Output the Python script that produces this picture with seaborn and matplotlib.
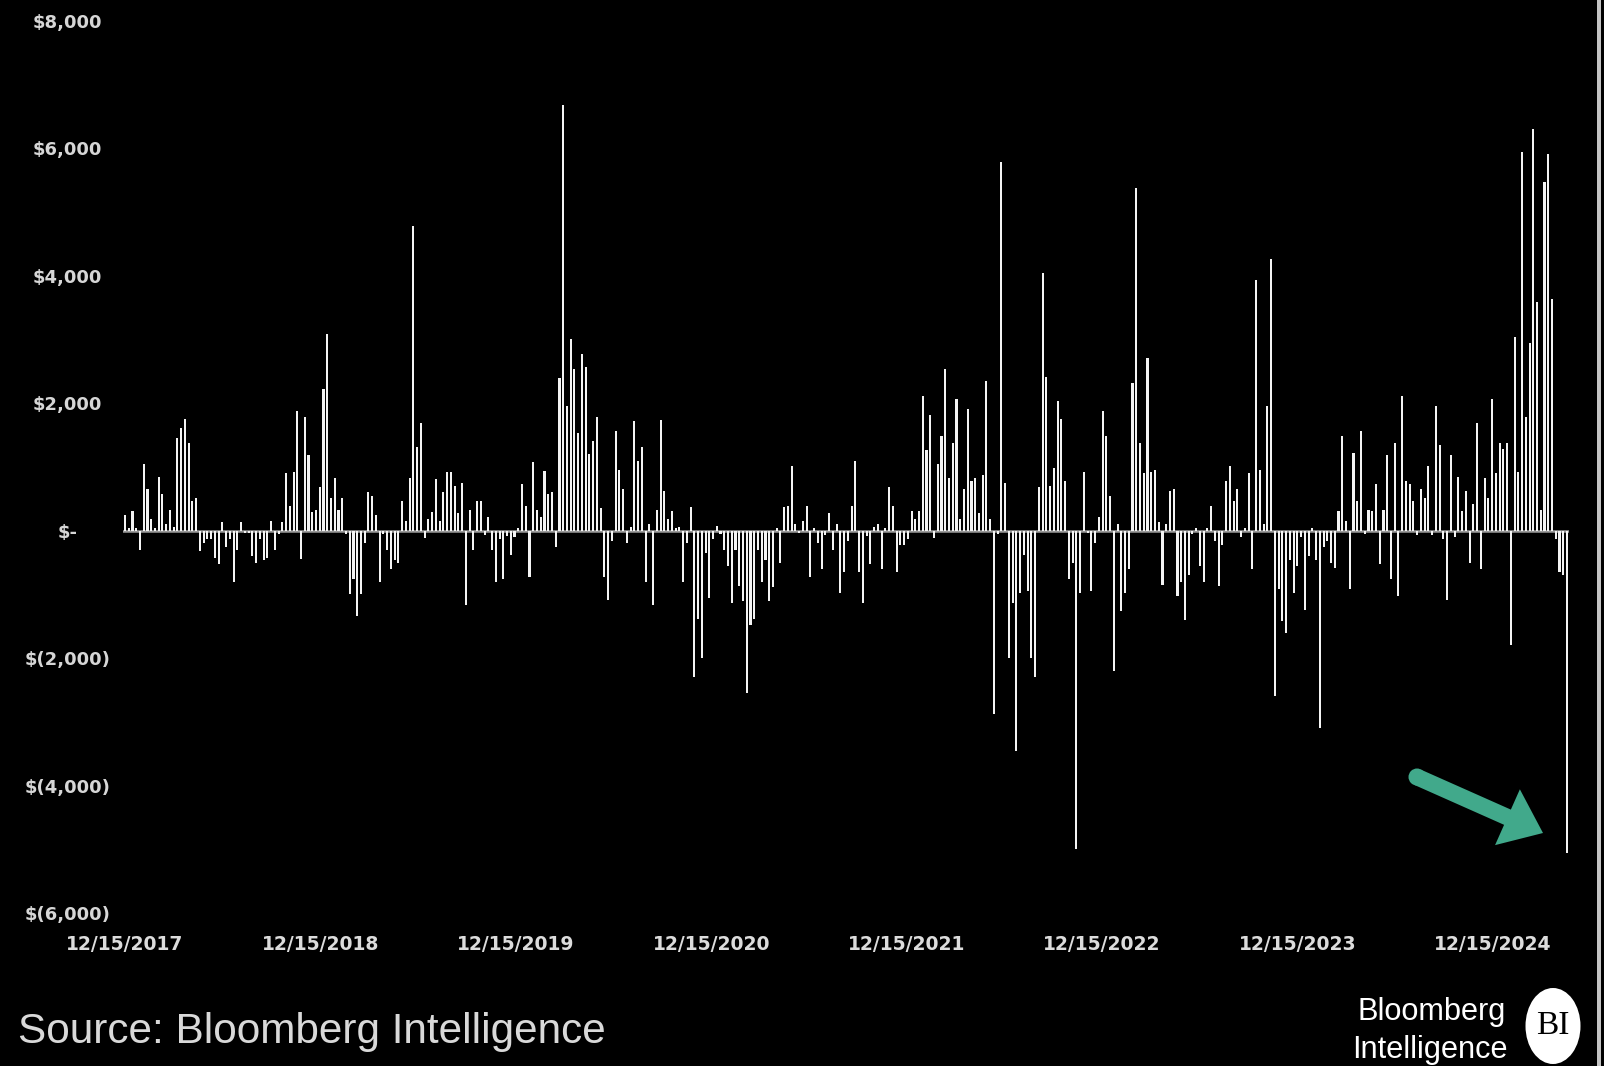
import numpy as np
import pandas as pd
import matplotlib
matplotlib.use('Agg')
import matplotlib.pyplot as plt
import seaborn as sns
from matplotlib import font_manager
from matplotlib.patches import FancyArrowPatch, Circle, Ellipse, Rectangle
from matplotlib.transforms import IdentityTransform

# weekly net flows, $ thousands, first week 12/15/2017
flows_p1 = [0.25, 0.05, 0.31, 0.05, -0.3, 1.05, 0.65, 0.19, 0.05, 0.85,
            0.58, 0.1, 0.33, 0.06, 1.46, 1.61, 1.76, 1.38, 0.46, 0.51,
            -0.32, -0.19, -0.13, -0.13, -0.43, -0.53, 0.13, -0.26, -0.13, -0.81,
            -0.3, 0.13, -0.03, -0.03, -0.4, -0.5, -0.13, -0.46, -0.43, 0.16,
            -0.3, -0.05, 0.13, 0.91, 0.39, 0.92, 1.88, -0.44, 1.78, 1.19,
            0.3, 0.33, 0.69, 2.23, 3.09, 0.51, 0.82, 0.33, 0.51, -0.05,
            -0.99, -0.76, -1.34, -0.99]
flows_p2 = [-0.2, 0.6, 0.54, 0.24, -0.8, -0.05, -0.3, -0.6, -0.46, -0.5,
            0.47, 0.16, 0.83, 4.78, 1.32, 1.69, -0.11, 0.19, 0.3, 0.81,
            0.16, 0.6, 0.92, 0.92, 0.7, 0.28, 0.75, -1.16, 0.33, -0.3,
            0.46, 0.46, -0.06, 0.22, -0.3, -0.8, -0.13, -0.75, -0.08, -0.38,
            -0.1, 0.04, 0.73, 0.39, -0.73, 1.08, 0.33, 0.22, 0.94, 0.58,
            0.6, -0.26, 2.39, 6.68, 1.95, 3.01, 2.54, 1.53, 2.77, 2.57,
            1.21, 1.41, 1.78, 0.35]
flows_p3 = [-0.73, -1.09, -0.16, 1.56, 0.95, 0.66, -0.2, 0.06, 1.72, 1.1,
            1.32, -0.8, 0.1, -1.16, 0.33, 1.73, 0.63, 0.19, 0.31, 0.05,
            0.06, -0.8, -0.2, 0.37, -2.3, -1.39, -2.0, -0.35, -1.06, -0.13,
            0.08, -0.05, -0.3, -0.56, -1.13, -0.3, -0.86, -1.1, -2.55, -1.48,
            -1.39, -0.3, -0.81, -0.46, -1.1, -0.89, 0.04, -0.5, 0.37, 0.39,
            1.01, 0.1, -0.03, 0.16, 0.39, -0.73, 0.04, -0.2, -0.6, -0.06,
            0.28, -0.31, 0.1, -0.97]
flows_p4 = [-0.65, -0.16, 0.39, 1.1, -0.65, -1.13, -0.08, -0.53, 0.06, 0.1,
            -0.6, 0.04, 0.69, 0.39, -0.65, -0.22, -0.22, -0.13, 0.31, 0.19,
            0.31, 2.12, 1.26, 1.82, -0.11, 1.05, 1.49, 2.54, 0.82, 1.37,
            2.06, 0.19, 0.66, 1.91, 0.78, 0.82, 0.28, 0.87, 2.35, 0.19,
            -2.88, -0.05, 5.79, 0.75, -2.0, -1.13, -3.45, -0.97, -0.38, -0.94,
            -2.0, -2.3, 0.69, 4.04, 2.42, 0.7, 0.98, 2.03, 1.76, 0.78,
            -0.75, -0.51]
flows_p5 = [-5.0, -0.97, 0.92, -0.03, -0.94, -0.2, 0.22, 1.88, 1.49, 0.54,
            -2.2, 0.1, -1.26, -0.97, -0.6, 2.32, 5.38, 1.37, 0.91, 2.71,
            0.92, 0.96, 0.13, -0.85, 0.1, 0.63, 0.66, -1.02, -0.8, -1.4,
            -0.7, -0.05, 0.04, -0.55, -0.8, 0.04, 0.39, -0.16, -0.86, -0.22,
            0.78, 1.01, 0.46, 0.66, -0.1, 0.04, 0.91, -0.6, 3.94, 0.96,
            0.1, 1.96, 4.27, -2.6, -0.91, -1.42, -1.6, -0.46, -0.97, -0.55,
            -0.1, -1.24, -0.4, 0.04, -0.46]
flows_p6 = [-3.1, -0.26, -0.16, -0.5, -0.59, 0.31, 1.49, 0.16, -0.91, 1.22,
            0.47, 1.56, -0.05, 0.33, 0.31, 0.73, -0.53, 0.33, 1.19, -0.75,
            1.37, -1.02, 2.12, 0.78, 0.73, 0.46, -0.06, 0.66, 0.51, 1.01,
            -0.06, 1.95, 1.34, -0.13, -1.09, 1.19, -0.1, 0.85, 0.31, 0.63,
            -0.5, 0.42, 1.69, -0.6, 0.82, 0.51, 2.06, 0.9, 1.37, 1.29,
            1.37, -1.8, 3.04, 0.92, 5.94, 1.78, 2.94, 6.3, 3.59, 0.33,
            5.47, 5.91, 3.63, -0.13, -0.65, -0.7, -5.06]

y_ticks = [-6000, -4000, -2000, 0, 2000, 4000, 6000, 8000]
y_labels = ['$(6,000)', '$(4,000)', '$(2,000)', '$-', '$2,000', '$4,000', '$6,000', '$8,000']
x_labels = ['12/15/2017', '12/15/2018', '12/15/2019', '12/15/2020',
            '12/15/2021', '12/15/2022', '12/15/2023', '12/15/2024']

flows = np.array(flows_p1 + flows_p2 + flows_p3 + flows_p4 + flows_p5 + flows_p6) * 1000
start = pd.Timestamp('2017-12-15')
days = np.arange(len(flows)) * 7
df = pd.DataFrame({'day': days, 'flow': flows})

tick_days = [(pd.Timestamp(s) - start).days for s in x_labels]

# fonts: a narrow face if there is one, otherwise a smaller regular one
names = {f.name for f in font_manager.fontManager.ttflist}
narrow = 'Liberation Sans Narrow' in names
foot_font = ['Liberation Sans Narrow', 'DejaVu Sans'] if narrow else ['Liberation Sans', 'DejaVu Sans']
shrink = 1.0 if narrow else 0.8

W, H = 1604, 1066
fig = plt.figure(figsize=(W / 100, H / 100), dpi=100, facecolor='black')

px_day = (1567 - 125) / days[-1]
left = (125 - 4 * px_day) / W
right = (1567 + 4 * px_day) / W
ax = fig.add_axes([left, (H - 913) / H, right - left, (913 - 21) / H])
ax.set_facecolor('black')

ax.axhline(0, color='#9c9c9c', lw=1.8, zorder=0.5)
sns.barplot(data=df, x='day', y='flow', native_scale=True, color='#f4f4f4',
            width=0.55, linewidth=0, saturation=1, errorbar=None, ax=ax, zorder=2)

ax.set_xlim(-4, days[-1] + 4)
ax.set_ylim(-6000, 8000)
for s in ax.spines.values():
    s.set_visible(False)
ax.grid(False)

ax.set_yticks(y_ticks)
ax.set_yticklabels(y_labels, fontsize=13, fontweight='bold', color='#d6d6d6',
                   family='DejaVu Sans')
for lab in ax.get_yticklabels():
    lab.set_horizontalalignment('center')
ax.tick_params(axis='y', length=0, pad=40)

ax.set_xticks(tick_days)
ax.set_xticklabels(x_labels, fontsize=13.5, fontweight='bold', color='#dcdcdc',
                   family='DejaVu Sans')
ax.tick_params(axis='x', length=0, pad=16)
ax.set_xlabel('')
ax.set_ylabel('')

# teal arrow pointing at the last bar
arrow_col = '#41a98b'
fig.add_artist(FancyArrowPatch((1417, H - 777), (1543, H - 833), transform=IdentityTransform(),
                               arrowstyle='simple,head_length=2.8,head_width=4.4,tail_width=1.2',
                               mutation_scale=10, color=arrow_col, shrinkA=0, shrinkB=0, lw=0))
fig.add_artist(Circle((1417, H - 777), 8.5, transform=IdentityTransform(), color=arrow_col, lw=0))

# footer
fig.text(18 / W, (H - 1043) / H, 'Source: Bloomberg Intelligence', family=foot_font,
         fontsize=38 * shrink, color='#d9d9d9', ha='left', va='baseline')
fig.text(1506 / W, (H - 1020) / H, 'Bloomberg', family=foot_font, fontsize=27 * 0.82,
         color='white', ha='right', va='baseline')
fig.text(1508 / W, (H - 1058) / H, 'Intelligence', family=foot_font, fontsize=27 * 0.82,
         color='white', ha='right', va='baseline')
fig.add_artist(Ellipse((1553, H - 1026), 55, 76, transform=IdentityTransform(), color='white', lw=0))
fig.text(1553 / W, (H - 1026) / H, 'BI', family=['Liberation Serif', 'DejaVu Serif'],
         fontsize=24, color='black', ha='center', va='center')

# light strip on the right edge
fig.add_artist(Rectangle((1597 / W, 0), 4 / W, 1, transform=fig.transFigure,
                         color='#c4c4c4', lw=0))

fig.savefig('out.png', dpi=100, facecolor='black')
